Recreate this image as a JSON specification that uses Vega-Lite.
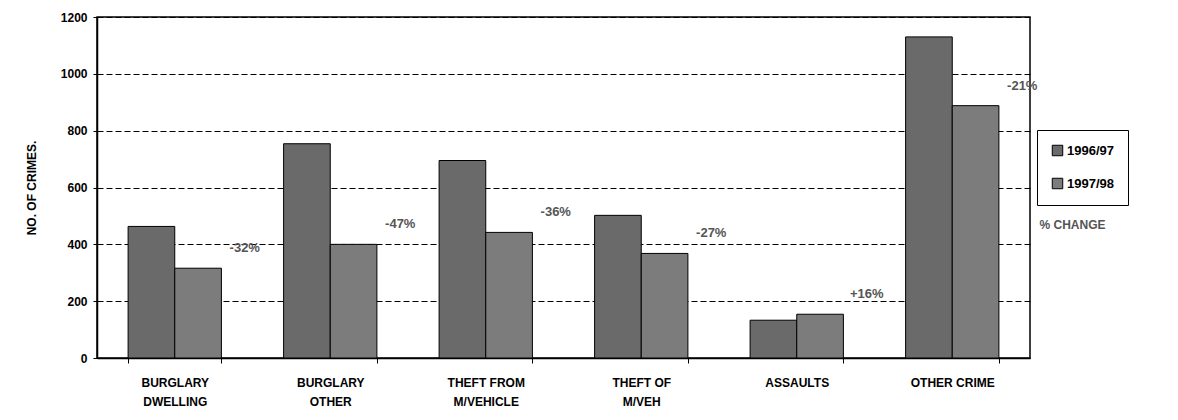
{
  "$schema": "https://vega.github.io/schema/vega-lite/v6.json",
  "autosize": {"type": "none"},
  "width": 933,
  "height": 341,
  "padding": {"left": 97, "top": 17, "right": 148, "bottom": 62},
  "background": "white",
  "config": {
    "font": "Liberation Sans",
    "view": {"stroke": "black", "strokeWidth": 1.5}
  },
  "title": {
    "text": "% CHANGE",
    "orient": "top",
    "anchor": "end",
    "dx": -23,
    "dy": 225,
    "fontSize": 12,
    "fontWeight": "bold",
    "color": "#555"
  },
  "data": {
    "values": [
      {"cat": "BURGLARY|DWELLING", "year": "1996/97", "crimes": 463},
      {"cat": "BURGLARY|DWELLING", "year": "1997/98", "crimes": 316, "change": "-32%"},
      {"cat": "BURGLARY|OTHER", "year": "1996/97", "crimes": 754},
      {"cat": "BURGLARY|OTHER", "year": "1997/98", "crimes": 400, "change": "-47%"},
      {"cat": "THEFT FROM|M/VEHICLE", "year": "1996/97", "crimes": 695},
      {"cat": "THEFT FROM|M/VEHICLE", "year": "1997/98", "crimes": 442, "change": "-36%"},
      {"cat": "THEFT OF|M/VEH", "year": "1996/97", "crimes": 502},
      {"cat": "THEFT OF|M/VEH", "year": "1997/98", "crimes": 368, "change": "-27%"},
      {"cat": "ASSAULTS", "year": "1996/97", "crimes": 133},
      {"cat": "ASSAULTS", "year": "1997/98", "crimes": 154, "change": "+16%"},
      {"cat": "OTHER CRIME", "year": "1996/97", "crimes": 1130},
      {"cat": "OTHER CRIME", "year": "1997/98", "crimes": 888, "change": "-21%"}
    ]
  },
  "encoding": {
    "x": {
      "field": "cat",
      "type": "nominal",
      "sort": null,
      "scale": {"paddingInner": 0.4, "paddingOuter": 0.2},
      "axis": {
        "title": null,
        "labelAngle": 0,
        "labelExpr": "datum.value ? split(datum.value, '|') : ''",
        "labelFontSize": 12,
        "labelFontWeight": "bold",
        "labelColor": "black",
        "labelPadding": 14,
        "labelLineHeight": 19,
        "domainColor": "black",
        "domainWidth": 1.5,
        "tickColor": "black",
        "tickSize": 5,
        "tickBand": "extent"
      }
    }
  },
  "layer": [
    {
      "mark": {"type": "bar", "stroke": "black", "strokeWidth": 1},
      "encoding": {
        "xOffset": {"field": "year", "type": "nominal"},
        "y": {
          "field": "crimes",
          "type": "quantitative",
          "scale": {"domain": [0, 1200]},
          "axis": {
            "title": "NO. OF CRIMES.",
            "titleFontSize": 12,
            "titleFontWeight": "bold",
            "titleColor": "black",
            "titlePadding": 22,
            "values": [0, 200, 400, 600, 800, 1000, 1200],
            "format": "d",
            "labelFontSize": 12,
            "labelFontWeight": "bold",
            "labelColor": "black",
            "labelPadding": 6,
            "grid": true,
            "gridColor": "black",
            "gridDash": [6, 3],
            "gridWidth": 1,
            "domainColor": "black",
            "domainWidth": 1.5,
            "tickColor": "black",
            "tickSize": 4
          }
        },
        "color": {
          "field": "year",
          "type": "nominal",
          "scale": {"domain": ["1996/97", "1997/98"], "range": ["#6a6a6a", "#7c7c7c"]},
          "legend": {
            "title": null,
            "orient": "none",
            "legendX": 940,
            "legendY": 113,
            "strokeColor": "black",
            "fillColor": "white",
            "padding": 14,
            "rowPadding": 18,
            "symbolType": "square",
            "symbolSize": 110,
            "symbolStrokeColor": "black",
            "symbolStrokeWidth": 1,
            "labelFontSize": 13,
            "labelFontWeight": "bold",
            "labelColor": "black",
            "labelOffset": 3
          }
        }
      }
    },
    {
      "transform": [{"filter": "datum.change != null"}],
      "mark": {
        "type": "text",
        "dx": 70,
        "dy": -20,
        "fontSize": 13,
        "fontWeight": "bold",
        "color": "#555"
      },
      "encoding": {
        "y": {"field": "crimes", "type": "quantitative"},
        "text": {"field": "change"}
      }
    }
  ]
}
